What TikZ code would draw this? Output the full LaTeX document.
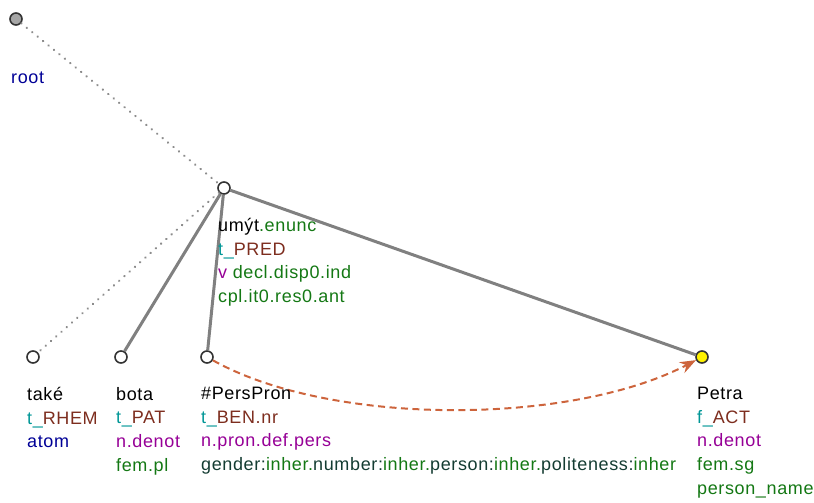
\documentclass[tikz,border=0pt]{standalone}
\usepackage{fontspec}
\setmainfont[LetterSpace=3.5]{Liberation Sans}
\usetikzlibrary{arrows.meta, positioning}

\definecolor{tlc}{RGB}{0,150,150}
\definecolor{func}{RGB}{125,45,30}
\definecolor{atomc}{RGB}{0,0,150}
\definecolor{prpc}{RGB}{150,0,150}
\definecolor{grnc}{RGB}{20,120,20}
\definecolor{attrc}{RGB}{20,60,50}
\definecolor{corefc}{RGB}{205,100,60}

\begin{document}
\begin{tikzpicture}[x=1pt, y=-1pt,
    tnode/.style={circle, draw=black!80, line width=1.6pt, fill=white, minimum size=12pt, inner sep=0pt},
    lbl/.style={anchor=north west, align=left, inner sep=0pt, font=\fontsize{18}{23.7}\selectfont, execute at begin node=\strut},
    solidedge/.style={draw=black!50, line width=3pt},
    dotedge/.style={draw=black!45, line width=2.3pt, line cap=round, dash pattern=on 0.3pt off 6.7pt},
    coref/.style={draw=corefc, line width=2pt, dash pattern=on 7pt off 4.5pt, -{Stealth[length=16pt, width=12pt]}}]
    \useasboundingbox (0,0) rectangle (814,503);

    % uzly
    \node[tnode, fill=black!35] (root) at (16,19) {};
    \node[tnode] (umyt) at (224,188) {};
    \node[tnode] (take) at (33,357) {};
    \node[tnode] (bota) at (121,357) {};
    \node[tnode] (perspron) at (207,357) {};
    \node[tnode, fill=yellow] (petra) at (702,357) {};

    % hrany
    \draw[dotedge] (root) -- (umyt);
    \draw[dotedge] (umyt) -- (take);
    \draw[solidedge] (umyt) -- (bota);
    \draw[solidedge] (umyt) -- (perspron);
    \draw[solidedge] (umyt) -- (petra);

    % koreference
    \draw[coref] (perspron) .. controls (330,426) and (570,426) .. (petra);

    % popisky
    \node[lbl] (root-l) at (11,67) {\textcolor{atomc}{root}};
    \node[lbl] (umyt-l) at (218,218) {umýt\textcolor{grnc}{.enunc}\\
        \textcolor{tlc}{t\_}\textcolor{func}{PRED}\\
        \textcolor{prpc}{v} \textcolor{grnc}{decl.disp0.ind}\\
        \textcolor{grnc}{cpl.it0.res0.ant}};
    \node[lbl] (take-l) at (27,387) {také\\
        \textcolor{tlc}{t\_}\textcolor{func}{RHEM}\\
        \textcolor{atomc}{atom}};
    \node[lbl] (bota-l) at (116,387) {bota\\
        \textcolor{tlc}{t\_}\textcolor{func}{PAT}\\
        \textcolor{prpc}{n.denot}\\
        \textcolor{grnc}{fem.pl}};
    \node[lbl] (perspron-l) at (201,387) {\#PersPron\\
        \textcolor{tlc}{t\_}\textcolor{func}{BEN.nr}\\
        \textcolor{prpc}{n.pron.def.pers}\\
        \textcolor{attrc}{gender:}\textcolor{grnc}{inher.}\textcolor{attrc}{number:}\textcolor{grnc}{inher.}\textcolor{attrc}{person:}\textcolor{grnc}{inher.}\textcolor{attrc}{politeness:}\textcolor{grnc}{inher}};
    \node[lbl] (petra-l) at (697,387) {Petra\\
        \textcolor{tlc}{f\_}\textcolor{func}{ACT}\\
        \textcolor{prpc}{n.denot}\\
        \textcolor{grnc}{fem.sg}\\
        \textcolor{grnc}{person\_name}};
\end{tikzpicture}
\end{document}
